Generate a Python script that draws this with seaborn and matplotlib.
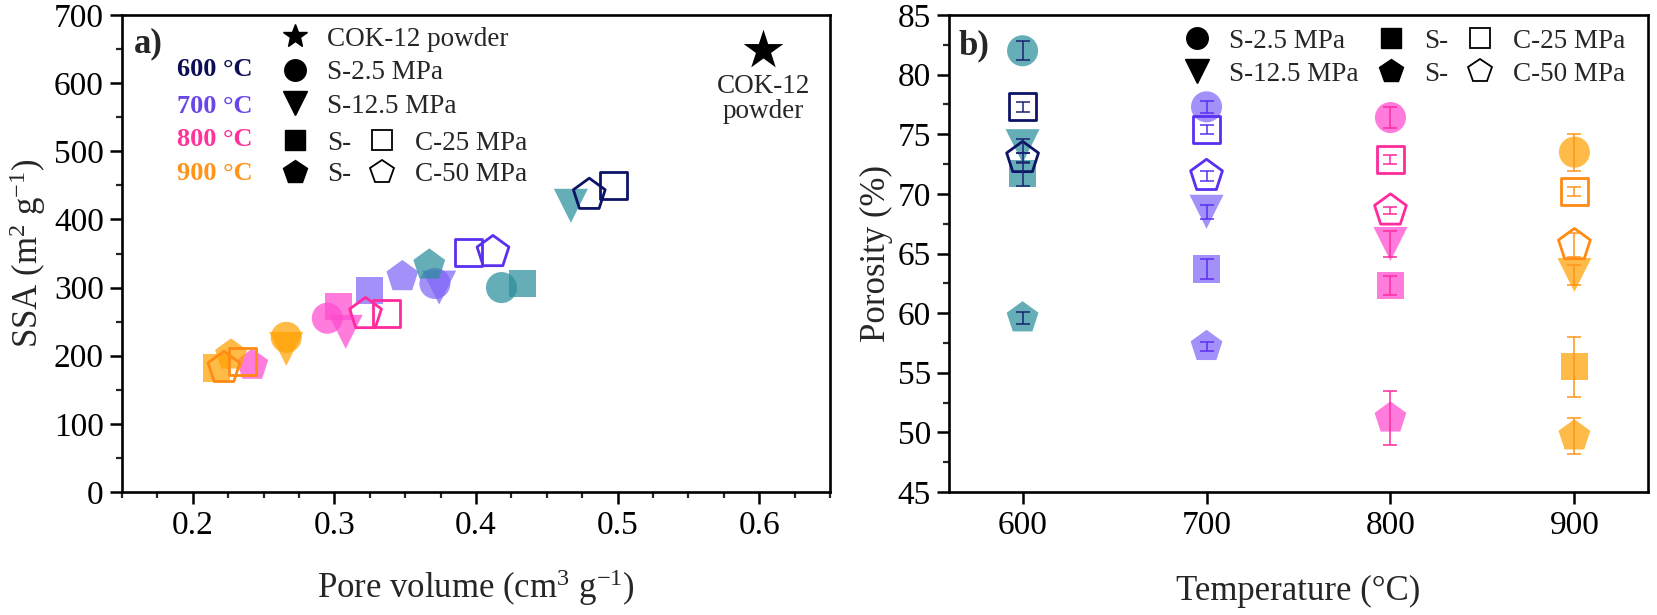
import pandas as pd
import matplotlib
matplotlib.use("Agg")
import matplotlib.pyplot as plt
import seaborn as sns
from matplotlib.lines import Line2D
from matplotlib.ticker import MultipleLocator

# temperatures (°C) and sample series
temps = [600, 700, 800, 900]
filled_samples = ['S-2.5 MPa', 'S-12.5 MPa', 'S-25 MPa', 'S-50 MPa']
open_samples = ['C-25 MPa', 'C-50 MPa']

# panel a: pore volume (cm3 g-1) and SSA (m2 g-1), ordered 600..900 °C
pv_s2_5 = [0.418, 0.371, 0.295, 0.266]
ssa_s2_5 = [300, 306, 255, 227]
pv_s12_5 = [0.467, 0.374, 0.308, 0.266]
ssa_s12_5 = [420, 300, 235, 210]
pv_s25 = [0.433, 0.325, 0.303, 0.217]
ssa_s25 = [306, 296, 272, 182]
pv_s50 = [0.367, 0.348, 0.242, 0.227]
ssa_s50 = [333, 316, 186, 201]
pv_c25 = [0.497, 0.395, 0.337, 0.235]
ssa_c25 = [450, 352, 262, 192]
pv_c50 = [0.480, 0.412, 0.322, 0.222]
ssa_c50 = [436, 352, 261, 182]
cok_pv = [0.603]
cok_ssa = [648]

# panel b: porosity (%) with error, ordered 600..900 °C
por_s2_5 = [82.0, 77.3, 76.4, 73.5]
err_s2_5 = [0.8, 0.5, 0.9, 1.55]
por_s12_5 = [74.0, 68.5, 65.8, 63.2]
err_s12_5 = [0.6, 0.6, 1.1, 0.8]
por_s25 = [71.7, 63.7, 62.3, 55.5]
err_s25 = [1.0, 0.8, 0.8, 2.5]
por_s50 = [59.6, 57.2, 51.2, 49.7]
err_s50 = [0.5, 0.4, 2.25, 1.5]
por_c25 = [77.3, 75.4, 72.9, 70.2]
err_c25 = [0.4, 0.4, 0.4, 0.4]
por_c50 = [73.0, 71.5, 68.6, 65.7]
err_c50 = [0.4, 0.4, 0.3, 1.0]

# colours
fill_pal = {600: '#2a8e9c', 700: '#8065f8', 800: '#ff4ad0', 900: '#ffa100'}
open_pal = {600: '#0d1466', 700: '#5a2ff0', 800: '#ff2a9d', 900: '#ff8a14'}
err_pal = {600: '#1a2370', 700: '#5a2ff0', 800: '#ff2a9d', 900: '#ff9419'}
label_pal = {600: '#0d0d55', 700: '#6a45e8', 800: '#ff3399', 900: '#ff9419'}

markers = {'S-2.5 MPa': 'o', 'S-12.5 MPa': 'v', 'S-25 MPa': 's', 'S-50 MPa': 'p',
           'C-25 MPa': 's', 'C-50 MPa': 'p'}
sizes = {'S-2.5 MPa': 500, 'S-12.5 MPa': 600, 'S-25 MPa': 380, 'S-50 MPa': 580,
         'C-25 MPa': 380, 'C-50 MPa': 580}

# build long tables
series = {
    'S-2.5 MPa': (pv_s2_5, ssa_s2_5, por_s2_5, err_s2_5),
    'S-12.5 MPa': (pv_s12_5, ssa_s12_5, por_s12_5, err_s12_5),
    'S-25 MPa': (pv_s25, ssa_s25, por_s25, err_s25),
    'S-50 MPa': (pv_s50, ssa_s50, por_s50, err_s50),
    'C-25 MPa': (pv_c25, ssa_c25, por_c25, err_c25),
    'C-50 MPa': (pv_c50, ssa_c50, por_c50, err_c50),
}
rows = []
for name, (pv, ssa, por, err) in series.items():
    for i, t in enumerate(temps):
        rows.append({'Sample': name, 'Temp': t, 'PV': pv[i], 'SSA': ssa[i],
                     'Porosity': por[i], 'Err': err[i]})
df = pd.DataFrame(rows)
df_fill = df[df['Sample'].isin(filled_samples)]
df_open = df[df['Sample'].isin(open_samples)]

sns.set_style('ticks')
plt.rcParams['font.family'] = ['Liberation Serif', 'DejaVu Serif']
plt.rcParams['mathtext.fontset'] = 'custom'
plt.rcParams['mathtext.rm'] = 'Liberation Serif'
plt.rcParams['mathtext.default'] = 'regular'

W, H = 1657, 615
fig = plt.figure(figsize=(W / 100, H / 100), dpi=100)
ax_a = fig.add_axes([122 / W, 123 / H, 708 / W, 477 / H])
ax_b = fig.add_axes([949 / W, 123 / H, 699 / W, 477 / H])


def draw_points(ax, xcol, ycol):
    sns.scatterplot(data=df_fill, x=xcol, y=ycol, hue='Temp', style='Sample', size='Sample',
                    palette=fill_pal, markers=markers, sizes=sizes, alpha=0.72,
                    linewidth=0, legend=False, ax=ax, zorder=2)
    n = len(ax.collections)
    sns.scatterplot(data=df_open, x=xcol, y=ycol, hue='Temp', style='Sample', size='Sample',
                    palette=open_pal, markers=markers, sizes=sizes,
                    legend=False, ax=ax, zorder=3)
    for coll in ax.collections[n:]:
        fc = coll.get_facecolors()
        coll.set_edgecolors(fc)
        coll.set_facecolors('none')
        coll.set_linewidth(2.0)


def style_axis(ax):
    for sp in ax.spines.values():
        sp.set_visible(True)
        sp.set_linewidth(1.9)
        sp.set_color('black')
    ax.tick_params(which='major', direction='out', length=8.6, width=1.8, labelsize=24,
                   top=False, right=False, colors='black')
    ax.tick_params(axis='x', which='major', pad=5)
    ax.tick_params(axis='y', which='major', pad=4.5)
    ax.tick_params(which='minor', direction='out', length=4.5, width=1.6,
                   top=False, right=False)


# ---------- panel a ----------
draw_points(ax_a, 'PV', 'SSA')
sns.scatterplot(x=cok_pv, y=cok_ssa, marker='*', s=900, color='black', linewidth=0,
                ax=ax_a, legend=False, zorder=4)
ax_a.annotate('COK-12\npowder', xy=(cok_pv[0], cok_ssa[0]), xytext=(0, -17),
              textcoords='offset points', ha='center', va='top', fontsize=19.5,
              linespacing=1.0)
ax_a.set_xlim(0.15, 0.65)
ax_a.set_ylim(0, 700)
ax_a.xaxis.set_major_locator(MultipleLocator(0.1))
ax_a.xaxis.set_minor_locator(MultipleLocator(0.025))
ax_a.yaxis.set_major_locator(MultipleLocator(100))
ax_a.yaxis.set_minor_locator(MultipleLocator(50))
ax_a.set_xlabel('Pore volume (cm$^3$ g$^{-1}$)', fontsize=25, labelpad=19)
ax_a.set_ylabel('SSA (m$^2$ g$^{-1}$)', fontsize=25, labelpad=4)
style_axis(ax_a)

ax_a.text(0.017, 0.939, 'a)', transform=ax_a.transAxes, fontsize=25, fontweight='bold',
          va='center', ha='left')
for t, yy in zip(temps, [0.885, 0.809, 0.738, 0.667]):
    ax_a.text(0.078, yy, f'{t} °C', transform=ax_a.transAxes, fontsize=19,
              fontweight='bold', color=label_pal[t], va='center', ha='left')


def mk(m, filled=True, ms=15.5):
    if filled:
        return Line2D([], [], linestyle='none', marker=m, markersize=ms,
                      markerfacecolor='black', markeredgecolor='black')
    return Line2D([], [], linestyle='none', marker=m, markersize=ms,
                  markerfacecolor='none', markeredgecolor='black', markeredgewidth=1.3)


leg_kw = dict(frameon=False, fontsize=19.5, handlelength=1.0, handletextpad=0.7,
              borderpad=0, borderaxespad=0)
leg1 = ax_a.legend([mk('*', ms=18), mk('o'), mk('v', ms=17)],
                   ['COK-12 powder', 'S-2.5 MPa', 'S-12.5 MPa'], labelspacing=0.31,
                   loc='upper left', bbox_to_anchor=(0.225, 0.975), **leg_kw)
ax_a.add_artist(leg1)
ax_a.legend([mk('s', ms=14), mk('p', ms=17.5), mk('s', False, 14), mk('p', False, 17.5)],
            ['S-', 'S-', 'C-25 MPa', 'C-50 MPa'], ncol=2, columnspacing=0.63,
            labelspacing=0.24, loc='upper left', bbox_to_anchor=(0.225, 0.757), **leg_kw)

# ---------- panel b ----------
for name in filled_samples + open_samples:
    sub = df[df['Sample'] == name]
    for t in temps:
        row = sub[sub['Temp'] == t]
        ax_b.errorbar(row['Temp'], row['Porosity'], yerr=row['Err'], fmt='none',
                      ecolor=err_pal[t], elinewidth=1.1, capsize=5, capthick=1.1, zorder=5)
draw_points(ax_b, 'Temp', 'Porosity')
ax_b.set_xlim(560, 940)
ax_b.set_ylim(45, 85)
ax_b.xaxis.set_major_locator(MultipleLocator(100))
ax_b.yaxis.set_major_locator(MultipleLocator(5))
ax_b.yaxis.set_minor_locator(MultipleLocator(2.5))
ax_b.set_xlabel('Temperature (°C)', fontsize=25, labelpad=24)
ax_b.set_ylabel('Porosity (%)', fontsize=25, labelpad=3)
style_axis(ax_b)
ax_b.text(0.013, 0.935, 'b)', transform=ax_b.transAxes, fontsize=25, fontweight='bold',
          va='center', ha='left')
ax_b.legend([mk('o'), mk('v', ms=17), mk('s', ms=14), mk('p', ms=17.5),
             mk('s', False, 14), mk('p', False, 17.5)],
            ['S-2.5 MPa', 'S-12.5 MPa', 'S-', 'S-', 'C-25 MPa', 'C-50 MPa'],
            ncol=3, columnspacing=0.7, labelspacing=0.3, loc='upper left',
            bbox_to_anchor=(0.335, 0.971), **leg_kw)

fig.savefig('out.png', dpi=100)
